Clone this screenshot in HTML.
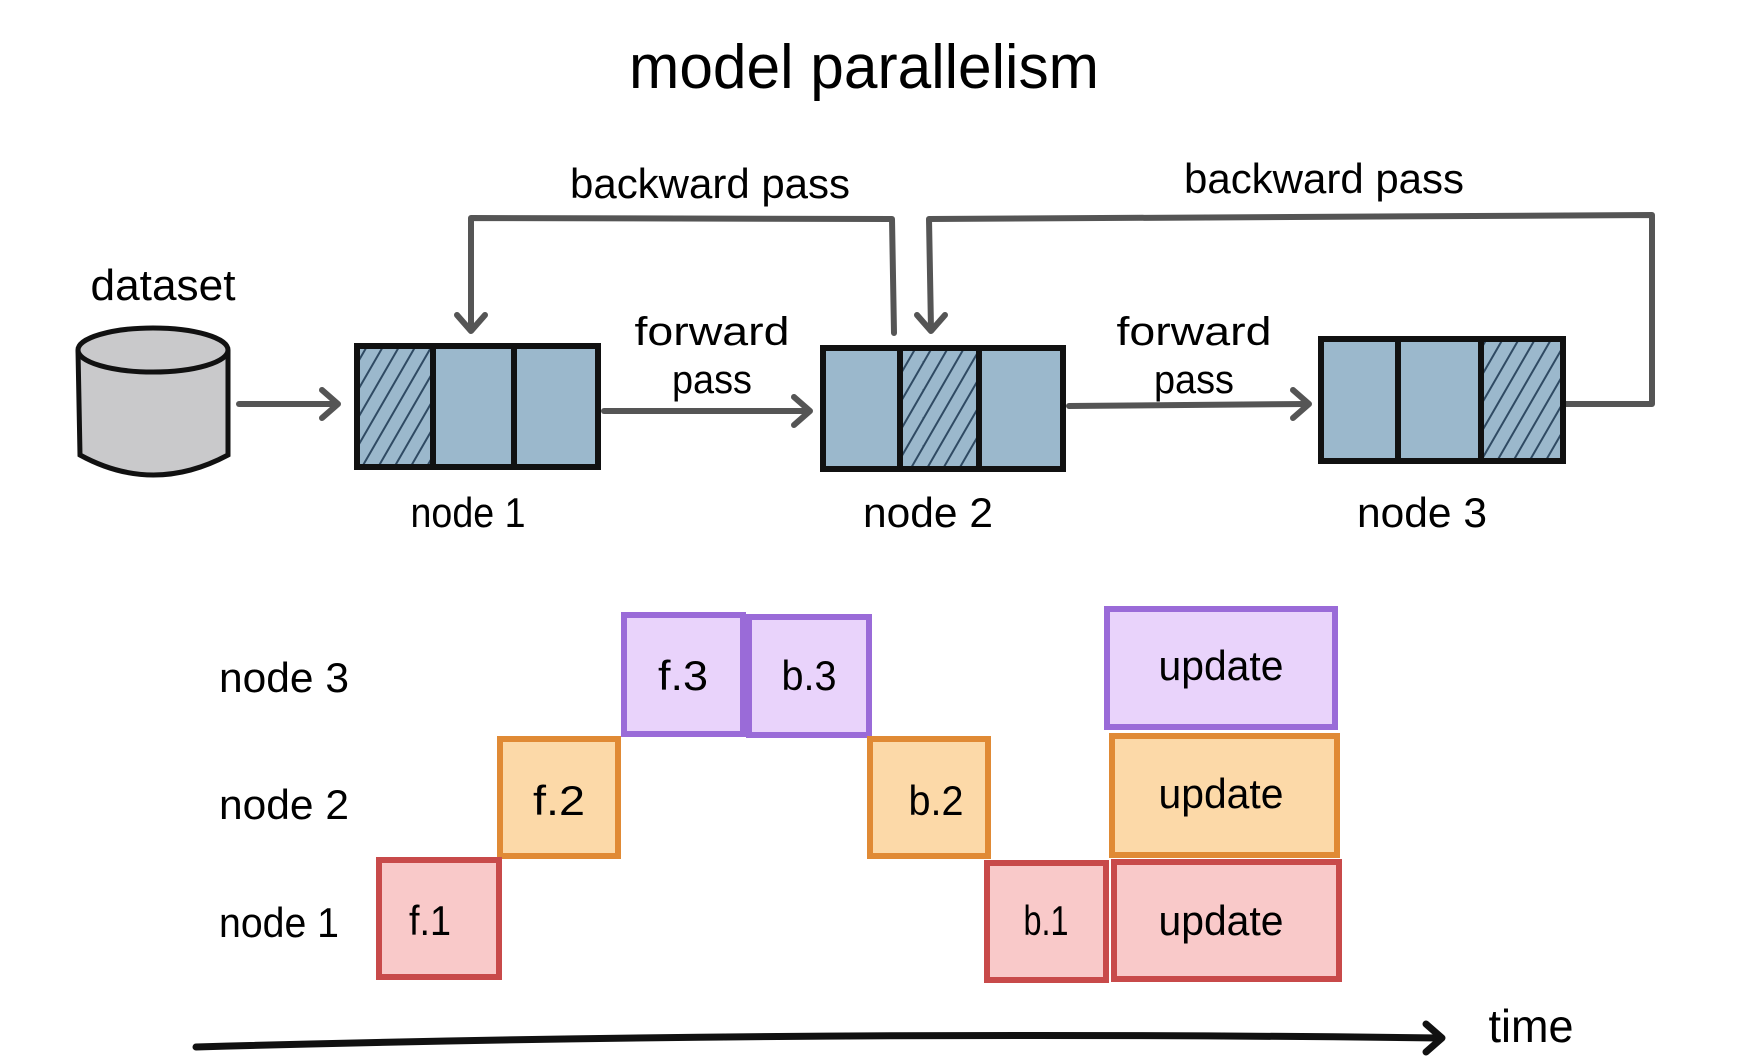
<!DOCTYPE html>
<html><head><meta charset="utf-8"><style>html,body{margin:0;padding:0;background:#fff}svg{display:block}</style></head>
<body>
<svg width="1750" height="1061" viewBox="0 0 1750 1061" xmlns="http://www.w3.org/2000/svg" font-family="Liberation Sans, sans-serif">
<defs>
<pattern id="h" patternUnits="userSpaceOnUse" width="14" height="14" patternTransform="rotate(30)">
<rect width="14" height="14" fill="#9bb8cc"/><line x1="0" y1="0" x2="0" y2="14" stroke="#2f4a63" stroke-width="4"/>
</pattern>
<marker id="ag" markerWidth="10" markerHeight="10" refX="8" refY="5" orient="auto" markerUnits="userSpaceOnUse" viewBox="0 0 10 10">
</marker>
</defs>
<text x="864" y="88" font-size="62" text-anchor="middle" textLength="470" lengthAdjust="spacingAndGlyphs">model parallelism</text>

<!-- cylinder -->
<path d="M78 350 L80 455 Q153 495 228 455 L228 350" fill="#c9c9cb" stroke="#111" stroke-width="5"/>
<ellipse cx="153" cy="350" rx="75" ry="22" fill="#c9c9cb" stroke="#111" stroke-width="5"/>
<text x="163" y="300" font-size="44" text-anchor="middle" textLength="145" lengthAdjust="spacingAndGlyphs">dataset</text>

<g fill="none" stroke="#555" stroke-width="6" stroke-linecap="round" stroke-linejoin="round">
<line x1="239" y1="404" x2="336" y2="404"/><polyline points="322,390 338,404 322,418"/>
<line x1="604" y1="411" x2="808" y2="411"/><polyline points="794,397 810,411 794,425"/>
<line x1="1069" y1="406" x2="1307" y2="404"/><polyline points="1293,390 1309,404 1293,418"/>
<polyline points="894,333 892,219 471,218 471,329"/><polyline points="457,315 471,331 485,315"/>
<polyline points="1565,404 1652,404 1652,215 929,219 931,329"/><polyline points="917,315 931,331 945,315"/>
</g>

<!-- nodes -->
<g stroke="#111" stroke-width="6">
<rect x="357" y="346" width="241" height="121" fill="#9bb8cc"/>
<rect x="357" y="346" width="76" height="121" fill="url(#h)"/>
<line x1="433" y1="346" x2="433" y2="467"/><line x1="514" y1="346" x2="514" y2="467"/>
<rect x="823" y="348" width="240" height="121" fill="#9bb8cc"/>
<rect x="900" y="348" width="79" height="121" fill="url(#h)"/>
<rect x="1321" y="339" width="242" height="122" fill="#9bb8cc"/>
<rect x="1481" y="339" width="82" height="122" fill="url(#h)"/>
<line x1="1398" y1="339" x2="1398" y2="461"/>
</g>
<text x="710" y="198" font-size="42" text-anchor="middle" textLength="280" lengthAdjust="spacingAndGlyphs">backward pass</text>
<text x="1324" y="193" font-size="42" text-anchor="middle" textLength="280" lengthAdjust="spacingAndGlyphs">backward pass</text>
<g font-size="40" text-anchor="middle">
<text x="712" y="345" textLength="155" lengthAdjust="spacingAndGlyphs">forward</text>
<text x="712" y="393" textLength="80" lengthAdjust="spacingAndGlyphs">pass</text>
<text x="1194" y="345" textLength="155" lengthAdjust="spacingAndGlyphs">forward</text>
<text x="1194" y="393" textLength="80" lengthAdjust="spacingAndGlyphs">pass</text>
</g>
<g font-size="42" text-anchor="middle">
<text x="468" y="527" textLength="115" lengthAdjust="spacingAndGlyphs">node 1</text>
<text x="928" y="527" textLength="130" lengthAdjust="spacingAndGlyphs">node 2</text>
<text x="1422" y="527" textLength="130" lengthAdjust="spacingAndGlyphs">node 3</text>
</g>

<!-- timeline -->
<g font-size="42">
<text x="219" y="692" textLength="130" lengthAdjust="spacingAndGlyphs">node 3</text>
<text x="219" y="819" textLength="130" lengthAdjust="spacingAndGlyphs">node 2</text>
<text x="219" y="937" textLength="120" lengthAdjust="spacingAndGlyphs">node 1</text>
</g>
<g stroke-width="6">
<g fill="#e9d3fb" stroke="#9a6bd8">
<rect x="624" y="615" width="119" height="119"/><rect x="749" y="617" width="120" height="118"/><rect x="1107" y="609" width="228" height="118"/>
</g>
<g fill="#fcd9a8" stroke="#e08a35">
<rect x="500" y="739" width="118" height="117"/><rect x="870" y="739" width="118" height="117"/><rect x="1112" y="736" width="225" height="119"/>
</g>
<g fill="#f9c9c9" stroke="#c84a4a">
<rect x="379" y="860" width="120" height="117"/><rect x="987" y="863" width="119" height="117"/><rect x="1114" y="862" width="225" height="117"/>
</g>
</g>
<g font-size="42" text-anchor="middle">
<text x="683" y="690" textLength="50" lengthAdjust="spacingAndGlyphs">f.3</text>
<text x="809" y="690" textLength="55" lengthAdjust="spacingAndGlyphs">b.3</text>
<text x="1221" y="680" textLength="125" lengthAdjust="spacingAndGlyphs">update</text>
<text x="559" y="815" textLength="52" lengthAdjust="spacingAndGlyphs">f.2</text>
<text x="936" y="815" textLength="55" lengthAdjust="spacingAndGlyphs">b.2</text>
<text x="1221" y="808" textLength="125" lengthAdjust="spacingAndGlyphs">update</text>
<text x="430" y="935" textLength="42" lengthAdjust="spacingAndGlyphs">f.1</text>
<text x="1046" y="935" textLength="45" lengthAdjust="spacingAndGlyphs">b.1</text>
<text x="1221" y="935" textLength="125" lengthAdjust="spacingAndGlyphs">update</text>
</g>
<g fill="none" stroke="#111" stroke-width="7" stroke-linecap="round" stroke-linejoin="round">
<path d="M196 1047 Q800 1030 1440 1038"/><polyline points="1426,1024 1442,1038 1426,1052"/>
</g>
<text x="1531" y="1042" font-size="46" text-anchor="middle" textLength="85" lengthAdjust="spacingAndGlyphs">time</text>
</svg>
</body></html>
